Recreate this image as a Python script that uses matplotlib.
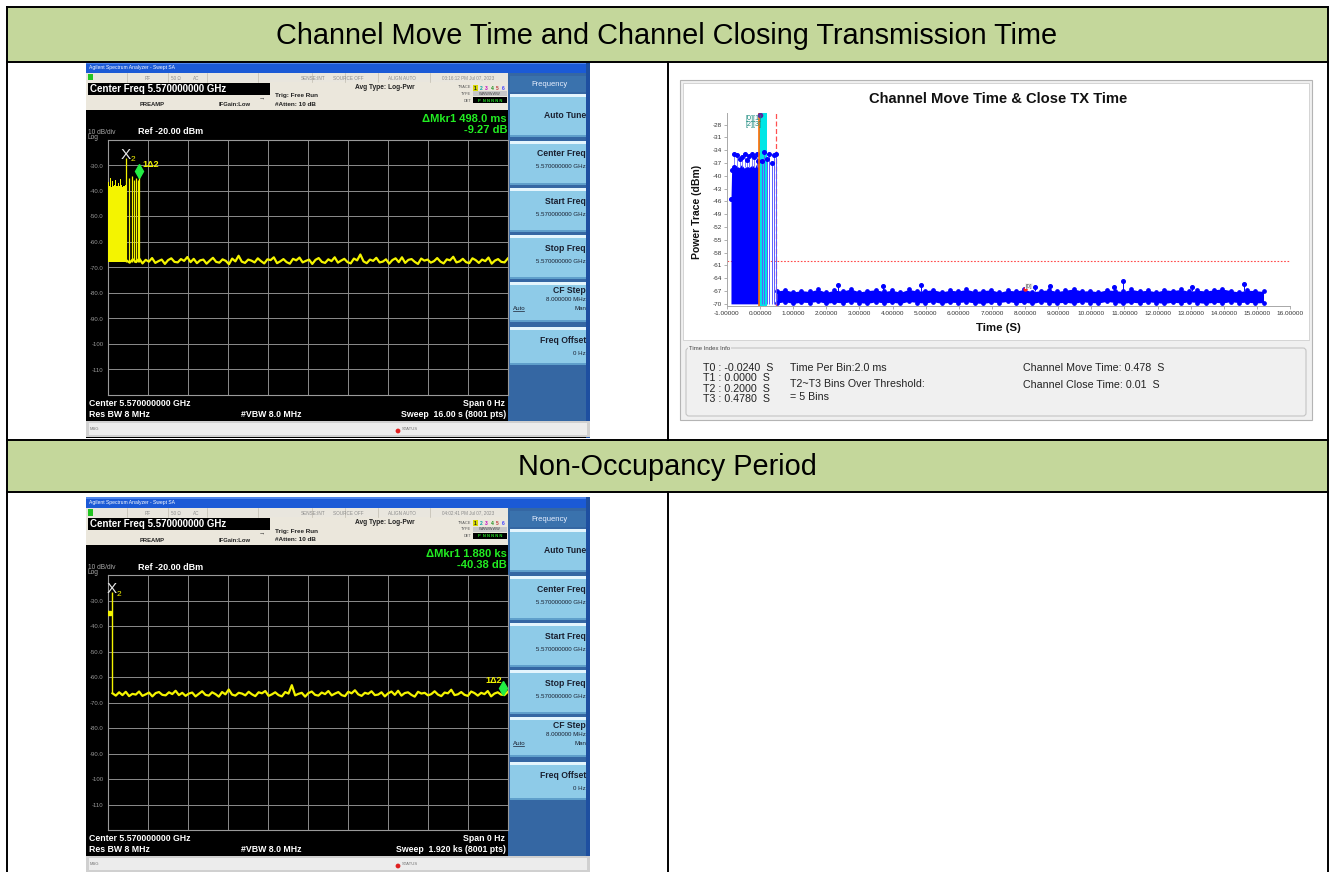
import numpy as np
import matplotlib
matplotlib.use('Agg')
import matplotlib.pyplot as plt
from matplotlib.patches import Rectangle, FancyBboxPatch, Circle

W, H = 1335, 872
plt.rcParams['font.family'] = ['Liberation Sans', 'DejaVu Sans']

# ---------------- data ----------------
header_1 = "Channel Move Time and Channel Closing Transmission Time"
header_2 = "Non-Occupancy Period"

# Spectrum analyzer 1 (sweep 16 s)
sa1_sweep = 16.0
sa1_burst_top = [-38.0, -36.5, -38.2, -35.0, -37.8, -38.3, -36.0, -38.1, -37.5, -38.4, -35.5, -38.0,
                 -37.9, -36.8, -38.2, -38.0, -35.2, -37.6, -38.3, -38.1, -36.2, -38.0, -37.7, -38.2]
sa1_burst_end = 0.75
sa1_spike_t = [0.87, 0.96, 1.06, 1.13, 1.21, 1.238]
sa1_spike_top = [-35.0, -34.2, -35.5, -35.0, -35.5, -32.0]
sa1_x2_t = 0.74
sa1_delta_t = 1.238
sa1_delta_v = -32.0
sa1_noise = [
    -67.2, -68.1, -66.8, -67.9, -66.5, -68.4, -67.0, -67.7, -66.3, -68.2,
    -67.5, -66.9, -68.6, -67.1, -66.4, -67.8, -68.0, -66.7, -67.4, -65.9,
    -67.9, -66.6, -68.3, -67.2, -66.9, -68.5, -67.3, -66.2, -67.8, -68.1,
    -66.8, -67.4, -68.7, -66.5, -67.6, -65.4, -67.7, -68.2, -66.9, -67.3,
    -68.0, -66.4, -67.5, -68.4, -66.8, -67.1, -66.0, -68.3, -67.6, -66.7,
    -67.9, -68.5, -66.6, -67.2, -66.1, -68.0, -67.4, -66.9, -68.6, -67.0,
    -66.3, -67.8, -68.2, -66.8, -67.5, -66.0, -68.1, -67.3, -66.6, -67.9,
    -68.4, -66.5, -67.2, -64.9, -67.6, -68.3, -66.9, -67.4, -66.2, -68.0,
    -67.7, -66.8, -68.5, -67.1, -66.4, -67.9, -66.0, -68.2, -67.0, -66.7,
    -67.8, -68.6, -66.5, -67.3, -66.9, -68.1, -67.5, -66.3, -67.7, -68.4,
    -66.8, -67.2, -65.8, -68.0, -67.6, -66.6, -67.9, -68.3, -66.4, -67.1,
    -68.2, -66.9, -67.5, -66.1, -68.5, -67.3, -66.7, -67.8, -68.0, -66.5]

# Spectrum analyzer 2 (sweep 1920 s)
sa2_sweep = 1920.0
sa2_start_t = [0.0, 8.0, 19.0]
sa2_start_v = [-35.0, -34.8, -35.0]
sa2_x2_t = 19.0
sa2_delta_t = 1899.0
sa2_delta_v = -64.5
sa2_noise = [
    -66.4, -67.3, -66.0, -67.1, -65.8, -67.5, -66.6, -66.9, -65.7, -67.4,
    -66.8, -66.1, -67.6, -66.3, -65.9, -67.0, -67.2, -66.0, -66.7, -65.4,
    -67.1, -66.2, -67.4, -66.5, -66.1, -67.6, -66.6, -65.6, -67.0, -67.3,
    -66.0, -66.7, -67.7, -65.9, -66.8, -64.9, -66.9, -67.3, -66.2, -66.5,
    -67.2, -65.8, -66.8, -67.5, -66.0, -66.4, -65.5, -67.4, -66.8, -66.0,
    -67.1, -67.6, -65.9, -66.5, -63.2, -67.2, -66.6, -66.2, -67.7, -66.3,
    -65.7, -67.0, -67.3, -66.1, -66.7, -65.5, -67.2, -66.5, -65.9, -67.1,
    -67.5, -65.8, -66.4, -65.2, -66.8, -67.4, -66.2, -66.6, -65.6, -67.1,
    -66.9, -66.0, -67.6, -66.4, -65.7, -67.0, -65.4, -67.3, -66.3, -66.0,
    -67.0, -67.7, -65.8, -66.5, -66.2, -67.2, -66.7, -65.6, -66.9, -67.5,
    -66.1, -66.4, -65.0, -67.1, -66.8, -65.9, -67.0, -67.4, -65.7, -66.3,
    -67.3, -66.2, -66.7, -65.5, -67.6, -66.5, -66.0, -66.9, -67.1, -65.8]

# Right chart: Channel Move Time & Close TX Time
rc_xticks = list(range(-1, 17))
rc_yticks = list(range(-70, -27, 3))
rc_threshold = -60.0
rc_T = {'T0': -0.024, 'T1': 0.0, 'T2': 0.2, 'T3': 0.478}
rc_block_t = [-0.88, -0.86, -0.80, -0.72, -0.64, -0.56, -0.48, -0.40, -0.32, -0.24, -0.16, -0.08, -0.03]
rc_block_top = [-45.5, -38.6, -38.0, -37.6, -38.1, -37.4, -38.2, -37.8, -38.0, -37.5, -38.1, -36.8, -37.5]
rc_block_peak_t = [-0.78, -0.70, -0.62, -0.55, -0.47, -0.40, -0.33, -0.25, -0.18, -0.10, -0.05]
rc_block_peak_v = [-35.0, -35.2, -36.0, -35.5, -35.0, -36.2, -35.3, -35.0, -35.6, -35.0, -36.5]
rc_burst_t = [0.05, 0.12, 0.20, 0.28, 0.35, 0.42, 0.48]
rc_burst_v = [-36.5, -34.5, -36.0, -35.0, -37.0, -35.2, -35.0]
rc_top_t = 0.0
rc_top_v = -25.7
rc_noise_hi = [
    -67.0, -66.7, -67.2, -66.9, -67.1, -66.6, -67.3, -66.8, -67.0, -66.5,
    -67.2, -66.9, -66.7, -67.1, -66.8, -67.3, -66.6, -67.0, -66.9, -66.7,
    -67.2, -66.8, -67.0, -66.6, -67.1, -66.9, -66.7, -67.3, -66.8, -67.0,
    -66.6, -67.2, -66.9, -66.7, -67.1, -66.8, -66.5, -67.0, -66.9, -67.2,
    -66.7, -66.9, -67.1, -66.6, -67.0, -66.8, -67.2, -66.7, -66.9, -66.6,
    -67.1, -66.8, -67.0, -66.7, -66.5, -66.9, -67.2, -66.8, -66.9, -67.1]
rc_noise_lo = [
    -69.8, -69.5, -69.9, -69.6, -69.7, -69.4, -69.9, -69.6, -69.8, -69.5,
    -69.7, -69.9, -69.5, -69.8, -69.6, -69.9, -69.4, -69.7, -69.8, -69.5,
    -69.9, -69.6, -69.7, -69.5, -69.8, -69.9, -69.6, -69.7, -69.4, -69.8,
    -69.6, -69.9, -69.5, -69.7, -69.8, -69.6, -69.9, -69.5, -69.7, -69.8,
    -69.4, -69.7, -69.9, -69.6, -69.8, -69.5, -69.7, -69.9, -69.6, -69.8,
    -69.5, -69.7, -69.9, -69.6, -69.8, -69.5, -69.7, -69.6, -69.8, -69.7]
rc_noise_start, rc_noise_end = 0.5, 15.2
rc_out_t = [2.35, 3.70, 4.85, 8.30, 8.75, 10.70, 10.95, 13.05, 14.60]
rc_out_v = [-65.6, -65.9, -65.6, -66.1, -65.9, -66.1, -64.7, -66.0, -65.3]
rc_mark0_t, rc_mark0_v = 8.0, -66.6

info_left = ["T0 : -0.0240  S", "T1 : 0.0000  S", "T2 : 0.2000  S", "T3 : 0.4780  S"]
info_mid = ["Time Per Bin:2.0 ms", "T2~T3 Bins Over Threshold:", "= 5 Bins"]
info_right = ["Channel Move Time: 0.478  S", "Channel Close Time: 0.01  S"]

# ---------------- figure ----------------
fig = plt.figure(figsize=(W / 100, H / 100), dpi=100)
fig.patch.set_facecolor('white')


def add_px_axes(x0, y0, x1, y1, z):
    return fig.add_axes([x0 / W, 1 - y1 / H, (x1 - x0) / W, (y1 - y0) / H], zorder=z)


bg = add_px_axes(0, 0, W, H, 0)
bg.set_xlim(0, W); bg.set_ylim(H, 0); bg.axis('off')
fg = add_px_axes(0, 0, W, H, 10)
fg.set_xlim(0, W); fg.set_ylim(H, 0); fg.axis('off')


def rect(ax, x0, y0, x1, y1, fc, ec='none', lw=0, z=1):
    ax.add_patch(Rectangle((x0, y0), x1 - x0, y1 - y0, fc=fc, ec=ec, lw=lw, zorder=z))


def txt(x, y, s, size, color='black', ha='left', va='center', weight='normal', ax=None, **kw):
    (ax or fg).text(x, y, s, fontsize=size, color=color, ha=ha, va=va, fontweight=weight, **kw)


# table
GREEN = '#c4d79b'
rect(bg, 7, 7, 1328, 62, GREEN)
rect(bg, 7, 440, 1328, 492, GREEN)
for y in (7, 62, 440, 492):
    bg.plot([7, 1328], [y, y], color='black', lw=1.4, zorder=5)
for x in (7, 1328):
    bg.plot([x, x], [7, H], color='black', lw=1.4, zorder=5)
bg.plot([668, 668], [62, 440], color='black', lw=1.4, zorder=5)
bg.plot([668, 668], [492, H], color='black', lw=1.4, zorder=5)
txt(667, 36, header_1, 20.8, ax=bg, ha='center')
txt(667, 467, header_2, 20.8, ax=bg, ha='center')


# spectrum analyzer chrome
def draw_sa(oy, clock, mkr_line1, mkr_line2, sweep_txt):
    Y = lambda y: y + oy
    rect(bg, 86, Y(62), 590, Y(438), 'black')
    rect(bg, 86, Y(62), 590, Y(73), '#1b5ad6')
    rect(bg, 86, Y(62), 590, Y(64), '#4f86ec')
    txt(89, Y(67.5), "Agilent Spectrum Analyzer - Swept SA", 3.6, 'white')
    rect(bg, 86, Y(73), 508, Y(82), '#e9e6de')
    rect(bg, 88, Y(74), 93, Y(80.5), '#22c322')
    for xs in (127, 168, 207, 258, 312, 345, 378, 430):
        bg.plot([xs, xs], [Y(73), Y(82)], color='#c0bcb0', lw=0.5, zorder=2)
    for x, s in ((148, "RF"), (176, "50 Ω"), (196, "AC"), (313, "SENSE:INT"),
                 (348, "SOURCE OFF"), (402, "ALIGN AUTO"), (468, clock)):
        txt(x, Y(78), s, 3.3, '#8a8a8a', ha='center')
    rect(bg, 86, Y(82), 508, Y(110), '#ebe7dc')
    rect(bg, 88, Y(83), 270, Y(95), 'black')
    txt(90, Y(89), "Center Freq 5.570000000 GHz", 7, 'white', weight='bold')
    txt(262, Y(97.5), "→", 4.5, '#333333', ha='center')
    txt(275, Y(96), "Trig: Free Run", 4.6, '#222222', weight='bold')
    txt(275, Y(104), "#Atten: 10 dB", 4.6, '#222222', weight='bold')
    txt(140, Y(105), "PREAMP", 4.2, '#222222', weight='bold')
    txt(219, Y(105), "IFGain:Low", 4.2, '#222222', weight='bold')
    txt(355, Y(87.5), "Avg Type: Log-Pwr", 4.8, '#222222', weight='bold')
    txt(471, Y(87.5), "TRACE", 2.8, '#555555', ha='right')
    txt(471, Y(94), "TYPE", 2.8, '#555555', ha='right')
    txt(471, Y(100.5), "DET", 2.8, '#555555', ha='right')
    rect(bg, 473, Y(85), 478, Y(91), '#d8d800')
    for i, c in enumerate(['#202020', '#00a0a0', '#c000c0', '#209020', '#c04040', '#4040ff']):
        txt(475.5 + i * 5.5, Y(88), str(i + 1), 3.6, c, ha='center', weight='bold')
    rect(bg, 473, Y(91.5), 507, Y(96.5), '#c8c8c8')
    txt(490, Y(94), "WWWWWW", 2.8, '#444444', ha='center')
    rect(bg, 473, Y(97.5), 507, Y(103.5), 'black')
    txt(490, Y(100.5), "P  N N N N N", 3.0, '#22dd22', ha='center', weight='bold')
    # softkeys
    rect(bg, 508, Y(73), 590, Y(421), '#3567a3')
    rect(bg, 510, Y(76), 588, Y(92), '#3a72ad')
    txt(549, Y(84), "Frequency", 5.5, '#e8f0ff', ha='center')
    keys = [(94, 137, "Auto Tune", None), (141, 185, "Center Freq", "5.570000000 GHz"),
            (188, 232, "Start Freq", "5.570000000 GHz"), (235, 279, "Stop Freq", "5.570000000 GHz"),
            (282, 322, "CF Step", "8.000000 MHz"), (327, 365, "Freq Offset", "0 Hz")]
    for y0, y1, title, val in keys:
        rect(bg, 510, Y(y0), 588, Y(y1), '#8ecbe8')
        rect(bg, 510, Y(y0), 588, Y(y0 + 3), '#e4f5fd')
        rect(bg, 510, Y(y1 - 2), 588, Y(y1), '#5f9fcb')
        if val is None:
            txt(586, Y((y0 + y1) / 2), title, 6.2, '#1a2030', ha='right', weight='bold')
        elif title == "CF Step":
            txt(586, Y(y0 + 8), title, 6.2, '#1a2030', ha='right', weight='bold')
            txt(586, Y(y0 + 17), val, 4.4, '#1a2030', ha='right')
            txt(513, Y(y0 + 26), "Auto", 4.4, '#1a2030', ha='left')
            bg.plot([513, 524], [Y(y0 + 29), Y(y0 + 29)], color='#1a2030', lw=0.5, zorder=3)
            txt(586, Y(y0 + 26), "Man", 4.4, '#1a2030', ha='right')
        else:
            txt(586, Y(y0 + 13), title, 6.2, '#1a2030', ha='right', weight='bold')
            txt(586, Y(y0 + 26), val, 4.4, '#1a2030', ha='right')
    rect(bg, 586, Y(62), 590, Y(438), '#1e4fa0')
    # message bar
    rect(bg, 86, Y(421), 590, Y(437), '#d0d0d0')
    rect(bg, 89, Y(423), 587, Y(435), '#ececec')
    txt(90, Y(429), "MSG", 3.0, '#707070')
    bg.add_patch(Circle((398, Y(431)), 2.4, fc='#e02020', ec='none', zorder=3))
    txt(402, Y(429), "STATUS", 3.0, '#707070')
    # texts inside screen
    txt(507, Y(119), mkr_line1, 8, '#22ee22', ha='right', weight='bold')
    txt(507, Y(130), mkr_line2, 8, '#22ee22', ha='right', weight='bold')
    txt(88, Y(132), "10 dB/div", 4.8, '#a8a8a8')
    txt(88, Y(137.5), "Log", 4.8, '#a8a8a8')
    txt(138, Y(132), "Ref -20.00 dBm", 6.5, 'white', weight='bold')
    txt(89, Y(403), "Center 5.570000000 GHz", 6.3, 'white', weight='bold')
    txt(89, Y(414), "Res BW 8 MHz", 6.3, 'white', weight='bold')
    txt(241, Y(414), "#VBW 8.0 MHz", 6.3, 'white', weight='bold')
    txt(505, Y(403), "Span 0 Hz", 6.3, 'white', ha='right', weight='bold')
    txt(506, Y(414), sweep_txt, 6.3, 'white', ha='right', weight='bold')


draw_sa(0, "03:16:12 PM Jul 07, 2023", "ΔMkr1 498.0 ms", "-9.27 dB", "Sweep  16.00 s (8001 pts)")
draw_sa(435, "04:02:41 PM Jul 07, 2023", "ΔMkr1 1.880 ks", "-40.38 dB", "Sweep  1.920 ks (8001 pts)")

YEL = '#f4f400'


def sa_axes(oy, sweep):
    ax = add_px_axes(107.7, 140 + oy, 507.7, 395 + oy, 2)
    ax.set_facecolor('black')
    ax.set_xlim(0, sweep)
    ax.set_ylim(-120, -20)
    ax.set_xticks(np.linspace(0, sweep, 11))
    ax.set_xticklabels([])
    yt = list(range(-30, -111, -10))
    ax.set_yticks(yt)
    ax.set_yticklabels([f"{v:.1f}" if v > -100 else f"{v}" for v in yt])
    ax.tick_params(length=0, labelsize=4.3, labelcolor='#9a9a9a', pad=3)
    ax.grid(True, color='#8c8c8c', lw=0.7)
    for s in ax.spines.values():
        s.set_color('#9a9a9a'); s.set_linewidth(0.8)
    return ax


# SA1 trace
a1 = sa_axes(0, sa1_sweep)
bt = np.linspace(0, sa1_burst_end, len(sa1_burst_top))
a1.fill_between(bt, -68, sa1_burst_top, step='mid', color=YEL, lw=0, zorder=3)
a1.vlines(sa1_spike_t, -68, sa1_spike_top, color=YEL, lw=0.9, zorder=3)
a1.vlines([sa1_x2_t], -68, -27.0, color=YEL, lw=0.9, zorder=3)
nt1 = np.linspace(sa1_burst_end, sa1_sweep, len(sa1_noise))
a1.plot(nt1, sa1_noise, color=YEL, lw=1.6, zorder=3)
a1.plot([sa1_delta_t], [sa1_delta_v], marker='d', ms=7, color='#22ee44', zorder=4)
a1.text(sa1_x2_t, -25.8, "X", fontsize=11, color='#e8e8e8', ha='center', va='center', zorder=5)
a1.text(sa1_x2_t + 0.28, -27.5, "2", fontsize=6, color=YEL, ha='center', va='center', zorder=5)
a1.text(sa1_delta_t + 0.15, -29.5, "1Δ2", fontsize=6.5, color=YEL, ha='left', va='center',
        fontweight='bold', zorder=5)

# SA2 trace
a2 = sa_axes(435, sa2_sweep)
a2.plot(sa2_start_t, sa2_start_v, color=YEL, lw=1.2, zorder=3)
a2.plot([sa2_start_t[0] + 6], [sa2_start_v[0]], marker='s', ms=3.5, color=YEL, zorder=4)
a2.vlines([sa2_x2_t], sa2_noise[0], -26.5, color=YEL, lw=1.0, zorder=3)
nt2 = np.linspace(sa2_x2_t + 4, sa2_sweep, len(sa2_noise))
a2.plot(nt2, sa2_noise, color=YEL, lw=1.6, zorder=3)
a2.plot([sa2_delta_t], [sa2_delta_v], marker='d', ms=7, color='#22ee44', zorder=4, clip_on=False)
a2.text(sa2_x2_t, -25.5, "X", fontsize=11, color='#e8e8e8', ha='center', va='center', zorder=5)
a2.text(sa2_x2_t + 34, -27.5, "2", fontsize=6, color=YEL, ha='center', va='center', zorder=5)
a2.text(sa2_delta_t - 8, -61.3, "1Δ2", fontsize=6.5, color=YEL, ha='right', va='center',
        fontweight='bold', zorder=5)

# ---------------- right chart ----------------
rect(bg, 680, 80, 1312, 420, '#f0f0f0', ec='#b4b4b4', lw=0.8)
rect(bg, 683, 83, 1309, 340, 'white', ec='#cfcfcf', lw=0.6)
bg.add_patch(FancyBboxPatch((686, 348), 620, 68, boxstyle='round,pad=0,rounding_size=3',
                            fc='none', ec='#c4c4c4', lw=0.8, zorder=2))
txt(689, 348, "Time Index Info", 4.3, '#444444', ax=bg, bbox=dict(fc='#f0f0f0', ec='none', pad=0.5))

txt(998, 99, "Channel Move Time & Close TX Time", 10.6, '#111111', ha='center', weight='bold')
txt(697, 212, "Power Trace (dBm)", 7.5, '#111111', ha='center', weight='bold', rotation=90)
txt(998, 328, "Time (S)", 8.2, '#111111', ha='center', weight='bold')

BLUE = '#0000ff'
rc = add_px_axes(727, 113, 1290, 306, 2)
rc.set_facecolor('none')
rc.set_xlim(-1, 16)
rc.set_ylim(-70.5, -25.3)
rc.set_xticks(rc_xticks)
rc.set_xticklabels([f"{v:.5f}" for v in rc_xticks])
rc.set_yticks(rc_yticks)
rc.set_yticklabels([str(v) for v in rc_yticks])
rc.tick_params(labelsize=4.6, labelcolor='#333333', length=2, width=0.5, color='#909090', pad=1.5)
for s in ('top', 'right'):
    rc.spines[s].set_visible(False)
for s in ('left', 'bottom'):
    rc.spines[s].set_color('#a8a8a8'); rc.spines[s].set_linewidth(0.7)

rc.axhline(rc_threshold, color='#ff4a4a', ls=(0, (1.5, 1.5)), lw=0.8, zorder=2)
# pre-move block
rc.fill_between(rc_block_t, -70, rc_block_top, color=BLUE, lw=0, zorder=3)
rc.vlines(rc_block_peak_t, -38, rc_block_peak_v, color='#6a6aff', lw=0.6, zorder=3)
rc.plot(rc_block_peak_t, rc_block_peak_v, 'o', ms=2.6, color=BLUE, zorder=4)
rc.plot(rc_block_t[:3], rc_block_top[:3], 'o', ms=2.6, color=BLUE, zorder=4)
# T markers
rc.axvspan(rc_T['T0'], rc_T['T2'], color='#00e6e6', lw=0, zorder=3.5)
rc.axvline(rc_T['T0'], color='#ff6a00', lw=1.2, zorder=4)
rc.axvline(rc_T['T3'], color='#ff5050', lw=0.9, ls=(0, (4, 2)), zorder=4)
rc.axvline(rc_T['T2'] + 0.04, color='#ffffff', lw=0.7, ls=(0, (3, 2)), zorder=4.2)
# closing transmissions
rc.vlines(rc_burst_t, -70, rc_burst_v, color='#5a5aff', lw=0.7, zorder=4.1)
rc.plot(rc_burst_t, rc_burst_v, 'o', ms=2.6, color=BLUE, zorder=4.3)
rc.plot([rc_top_t], [rc_top_v], 'o', ms=3, color='#5a2aa0', zorder=4.3)
rc.text(-0.45, -26.6, "[0][1]", fontsize=5.2, color='#1e8c80', va='center', zorder=5)
rc.text(-0.45, -27.9, "[2][3]", fontsize=5.2, color='#1e8c80', va='center', zorder=5)
# noise floor after move
nt = np.linspace(rc_noise_start, rc_noise_end, len(rc_noise_hi))
rc.fill_between(nt, rc_noise_lo, rc_noise_hi, color=BLUE, lw=0, zorder=3)
rc.plot(nt, rc_noise_hi, 'o', ms=2.4, color=BLUE, zorder=3)
rc.plot(nt, rc_noise_lo, 'o', ms=2.4, color=BLUE, zorder=3)
rc.vlines(rc_out_t, -67, rc_out_v, color=BLUE, lw=0.7, zorder=3)
rc.plot(rc_out_t, rc_out_v, 'o', ms=2.6, color=BLUE, zorder=3)
rc.plot([rc_mark0_t], [rc_mark0_v], 'o', ms=2.2, color='#ff2020', zorder=5)
rc.text(rc_mark0_t + 0.02, rc_mark0_v + 0.4, "[0]", fontsize=4.2, color='#555555', zorder=5,
        bbox=dict(fc='#f4f4f4', ec='none', pad=0.3))

# info panel text
for i, s in enumerate(info_left):
    txt(703, 368 + i * 10.3, s, 7.7, '#222222')
txt(790, 368, info_mid[0], 7.7, '#222222')
txt(790, 384, info_mid[1], 7.7, '#222222')
txt(790, 397, info_mid[2], 7.7, '#222222')
txt(1023, 368, info_right[0], 7.7, '#222222')
txt(1023, 385, info_right[1], 7.7, '#222222')

fig.savefig('out.png', dpi=100)
